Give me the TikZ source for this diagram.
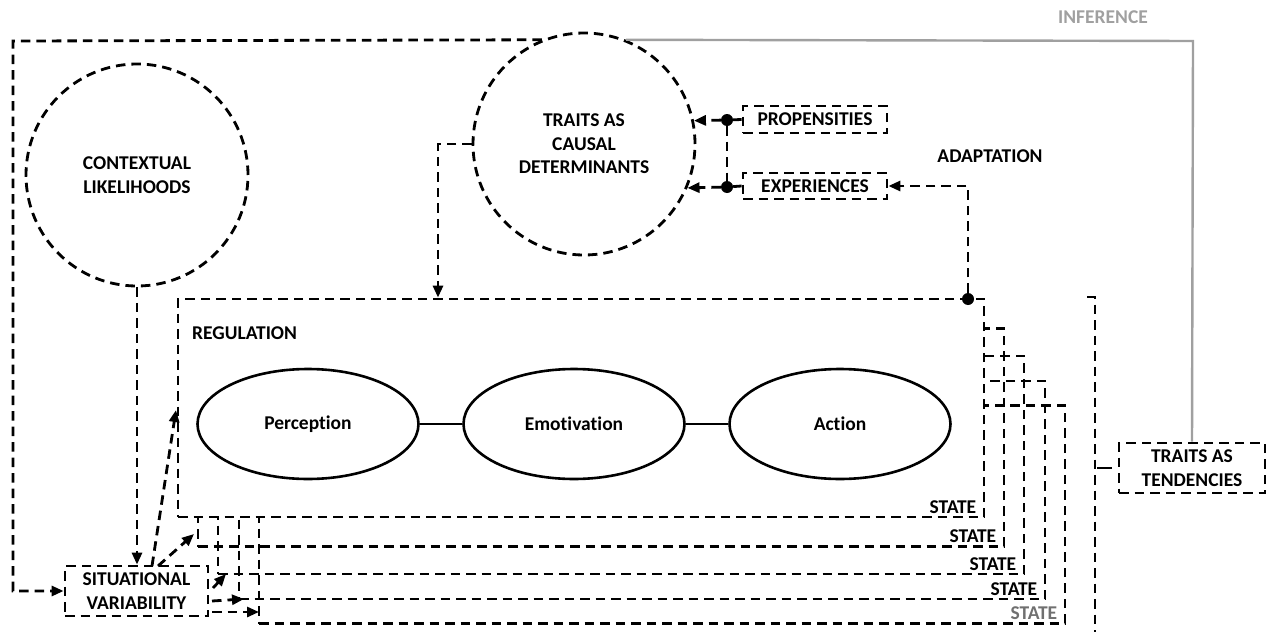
\documentclass[tikz,border=0pt]{standalone}
\usepackage{fontspec}
\setmainfont{Carlito}[Ligatures=NoCommon]
\usetikzlibrary{arrows.meta,shapes.geometric,calc}
\definecolor{infgray}{HTML}{A0A0A0}
\definecolor{stgray}{HTML}{707070}
\begin{document}
\begin{tikzpicture}[x=1pt,y=-1pt,
  dsh/.style={line width=2.8pt,dash pattern=on 9.5pt off 6pt},
  arr/.style={dsh,-{Triangle[length=12pt,width=10pt]}},
  txt/.style={font=\bfseries\fontsize{19.5}{23.5}\selectfont,align=center},
  tbox/.style={draw,dsh,rectangle,inner sep=0pt,txt},
  dcirc/.style={draw,dsh,ellipse,inner sep=0pt,minimum width=222pt,minimum height=222pt,txt},
  stbox/.style={draw,dsh,rectangle,inner sep=0pt,minimum width=806pt,minimum height=218pt},
  oval/.style={draw,line width=2.6pt,ellipse,inner sep=0pt,minimum width=221pt,minimum height=110pt,fill=white,txt},
  dotc/.style={circle,fill=black,inner sep=0pt,minimum size=12pt},
  statel/.style={txt,anchor=south east,inner sep=0pt}]
\useasboundingbox (0,0) rectangle (1266,637);

% circles
\node[dcirc] (ctx) at (137,175) {CONTEXTUAL\\LIKELIHOODS};
\node[dcirc] (causal) at (584,144) {TRAITS AS\\CAUSAL\\DETERMINANTS};

% small boxes
\node[tbox,minimum width=143pt,minimum height=50pt] (sit) at (136.5,591) {SITUATIONAL\\VARIABILITY};
\node[tbox,minimum width=144pt,minimum height=27pt] (prop) at (815,119.5) {PROPENSITIES};
\node[tbox,minimum width=144pt,minimum height=26pt] (exp) at (815,186) {EXPERIENCES};
\node[tbox,minimum width=146pt,minimum height=50pt] (tend) at (1192,468) {TRAITS AS\\TENDENCIES};

% stacked state boxes
\node[stbox] (b5) at (662,514.5) {};
\node[stbox] (b4) at (642,490) {};
\node[stbox] (b3) at (621,465) {};
\node[stbox] (b2) at (601,437.5) {};
\node[stbox,fill=white] (reg) at (581,408) {};

\node[txt,anchor=west,inner sep=0pt] (regl) at (192,333) {REGULATION};
\node[statel] (s1) at ($(reg.south east)+(-9,-5)$) {STATE};
\node[statel] (s2) at ($(b2.south east)+(-9,-5)$) {STATE};
\node[statel] (s3) at ($(b3.south east)+(-9,-5)$) {STATE};
\node[statel] (s4) at ($(b4.south east)+(-9,-5)$) {STATE};
\node[statel,text=stgray] (s5) at ($(b5.south east)+(-9,-5)$) {STATE};

% ovals
\node[oval] (perc) at (308,424) {Perception};
\node[oval] (emo) at (574,424) {Emotivation};
\node[oval] (act) at (840,424) {Action};
\draw[line width=2.4pt] (perc) -- (emo);
\draw[line width=2.4pt] (emo) -- (act);

% labels
\node[txt] (adapt) at (990,156) {ADAPTATION};
\node[txt,text=infgray] (infer) at (1103,17) {INFERENCE};

% outer loop
\coordinate (loopc) at (13,41);
\draw[arr] (causal.112) -- (loopc) -- (loopc |- sit.west) -- (sit.west);

% inference line
\coordinate (infc) at (1193,41);
\draw[line width=2.4pt,color=infgray] (causal.68) -- (infc) -- (tend.north);

% context to situational
\draw[arr] (ctx.south) -- (ctx.south |- sit.north);

% causal to regulation
\coordinate (cr) at (438,144);
\draw[arr] (causal.west) -- (cr) -- (cr |- reg.north);

% propensities / experiences
\node[dotc] (pdot) at (727,120) {};
\node[dotc] (edot) at (727,187) {};
\draw[dsh] (pdot) -- (edot);
\draw[dsh] (pdot) -- (prop.west);
\draw[dsh] (edot) -- (exp.west);
\draw[arr] (pdot) -- (causal.12);
\draw[arr] (edot) -- (causal.-23);

% adaptation
\node[dotc] (adot) at (968,299) {};
\draw[arr] (adot) -- (adot |- exp.east) -- (exp.east);

% bracket to tendencies
\coordinate (bt) at (1095,297);
\coordinate (bb) at (1095,632);
\coordinate (bh) at (1087,297);
\draw[dsh] (bh) -- (bt) -- (bb);
\draw[line width=2.8pt] (1097,468) -- (1112,468);

% situational arrows
\coordinate (a1s) at (152,566);
\coordinate (a2s) at (158,566);
\coordinate (a3s) at (213,588);
\coordinate (a4s) at (212,601);
\coordinate (a5s) at (212,612);
\coordinate (a1e) at (176,410);
\coordinate (a2e) at (194,534);
\coordinate (a3e) at (226,574);
\coordinate (a4e) at (244,599);
\coordinate (a5e) at (259,612);
\draw[arr] (a1s) -- (a1e);
\draw[arr] (a2s) -- (a2e);
\draw[arr] (a3s) -- (a3e);
\draw[arr] (a4s) -- (a4e);
\draw[arr] (a5s) -- (a5e);
\end{tikzpicture}
\end{document}
